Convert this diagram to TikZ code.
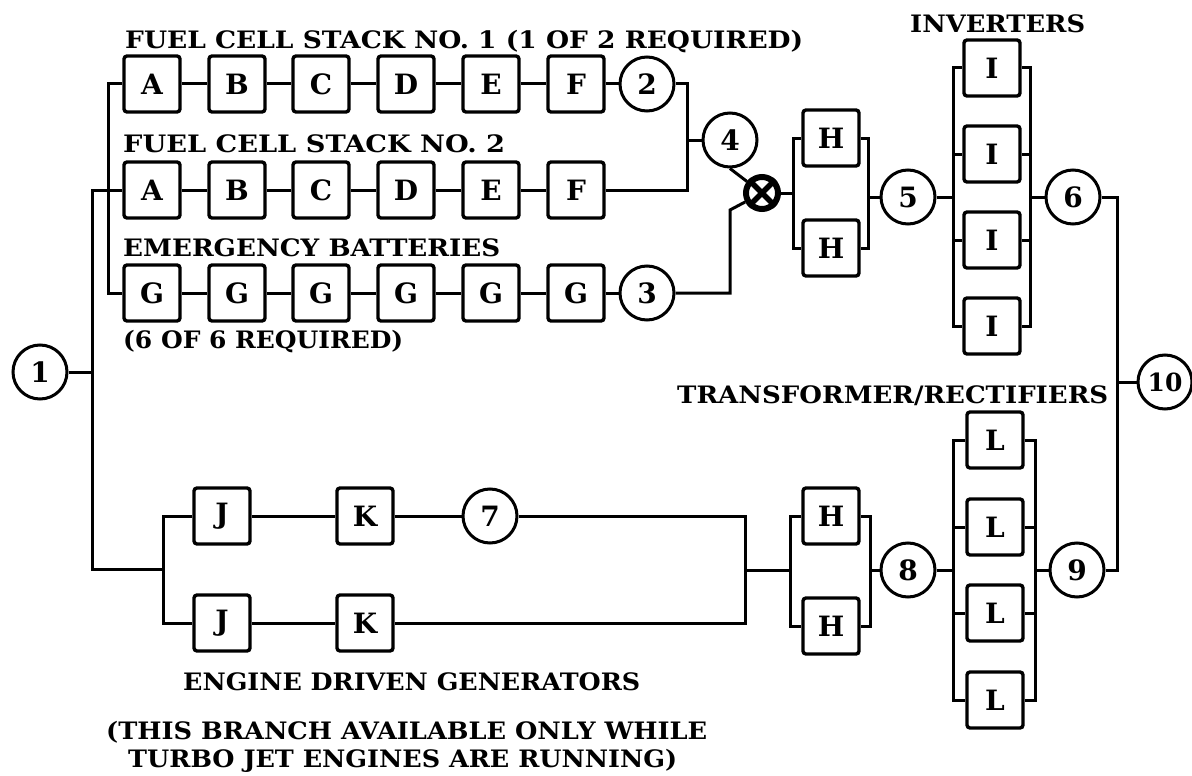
\documentclass[tikz,border=0pt]{standalone}
\usepackage{fontspec}
\setmainfont{DejaVu Serif}
\usepackage{graphicx}
\newcommand\fitw[2]{\resizebox{#1}{\height}{#2}}
\begin{document}
\begin{tikzpicture}[x=1pt,y=-1pt,
  blk/.style={draw,line width=3.4pt,rounded corners=3pt,minimum width=56pt,minimum height=56pt,inner sep=0pt,font=\fontsize{28}{30}\selectfont\bfseries},
  rnd/.style={draw,circle,line width=3pt,minimum size=54pt,inner sep=0pt,font=\fontsize{28}{30}\selectfont\bfseries},
  wire/.style={line width=3pt},
  lbl/.style={anchor=base west,inner sep=0pt,font=\fontsize{24}{28}\selectfont\bfseries}]
\useasboundingbox (0,0) rectangle (1192,776);

% labels
\node[lbl] (t1) at (125,49) {\fitw{678pt}{FUEL CELL STACK NO.~1 (1 OF 2 REQUIRED)}};
\node[lbl] (t2) at (123,152) {\fitw{382pt}{FUEL CELL STACK NO.~2}};
\node[lbl] (t3) at (123,256) {\fitw{377pt}{EMERGENCY BATTERIES}};
\node[lbl] (t4) at (123,348) {\fitw{280pt}{(6 OF 6 REQUIRED)}};
\node[lbl] (t5) at (910,33) {\fitw{175pt}{INVERTERS}};
\node[lbl] (t6) at (677,403) {\fitw{431pt}{TRANSFORMER/RECTIFIERS}};
\node[lbl] (t7) at (183,690) {\fitw{457pt}{ENGINE DRIVEN GENERATORS}};
\node[lbl] (t8) at (106,739) {\fitw{601pt}{(THIS BRANCH AVAILABLE ONLY WHILE}};
\node[lbl] (t9) at (128,767) {\fitw{549pt}{TURBO JET ENGINES ARE RUNNING)}};

% rows of boxes
\foreach \n/\x/\t in {1/152/A,2/237/B,3/321/C,4/406/D,5/491/E,6/576/F}{
  \node[blk] (r1\n) at (\x,84) {\t};
  \node[blk] (r2\n) at (\x,190) {\t};
  \node[blk] (r3\n) at (\x,293) {G};
}
\foreach \i/\j in {1/2,2/3,3/4,4/5,5/6}{
  \draw[wire] (r1\i) -- (r1\j);
  \draw[wire] (r2\i) -- (r2\j);
  \draw[wire] (r3\i) -- (r3\j);
}
\node[rnd] (c1) at (40,372) {1};
\node[rnd] (c2) at (647,84) {2};
\node[rnd] (c3) at (647,293) {3};
\node[rnd] (c4) at (730,140) {4};
\node[rnd] (c5) at (908,197) {5};
\node[rnd] (c6) at (1073,197) {6};
\node[rnd] (c7) at (490,516) {7};
\node[rnd] (c8) at (908,570) {8};
\node[rnd] (c9) at (1077,570) {9};
\node[rnd,font=\fontsize{25}{28}\selectfont\bfseries] (c10) at (1165,382) {10};

\node[circle,draw,line width=6pt,minimum size=32pt,inner sep=0pt] (X) at (762,193) {};
\draw[line width=5.5pt] (X.north west) -- (X.south east);
\draw[line width=5.5pt] (X.north east) -- (X.south west);

\node[blk] (h1) at (831,138) {H};
\node[blk] (h2) at (831,248) {H};
\node[blk] (h3) at (831,516) {H};
\node[blk] (h4) at (831,626) {H};
\foreach \n/\y in {1/68,2/154,3/240,4/326}{
  \node[blk] (i\n) at (992,\y) {I};
}
\foreach \n/\y in {1/440,2/527,3/613,4/700}{
  \node[blk] (l\n) at (995,\y) {L};
}
\node[blk] (j1) at (222,516) {J};
\node[blk] (j2) at (222,623) {J};
\node[blk] (k1) at (365,516) {K};
\node[blk] (k2) at (365,623) {K};

% left side
\coordinate (b1) at (92,372);
\coordinate (jb) at (163,569);
\draw[wire] (c1) -- (b1);
\draw[wire] (r21.west) -| (b1) |- (jb);
\draw[wire] (r11.west) -- ++(-13.5,0) |- (r31.west);
\draw[wire] (j1.west) -| (jb) |- (j2.west);
\draw[wire] (j1) -- (k1);
\draw[wire] (k1) -- (c7);
\draw[wire] (j2) -- (k2);

% fuel cells to X
\draw[wire] (r16) -- (c2);
\draw[wire] (r36) -- (c3);
\coordinate (m4) at (687,140);
\draw[wire] (c2) -| (m4) |- (r26.east);
\draw[wire] (m4) -- (c4);
\coordinate (m3) at (730,210);
\draw[wire] (c3) -| (m3) -- (X);
\draw[wire] (c4.south) -- (X);

% H pair (top)
\coordinate (hb1) at (793,193);
\draw[wire] (X) -- (hb1);
\draw[wire] (h1.west) -| (hb1) |- (h2.west);
\coordinate (hb2) at (868,197);
\draw[wire] (h1.east) -| (hb2) |- (h2.east);
\draw[wire] (hb2) -- (c5);

% inverters
\coordinate (ib1) at (953,197);
\coordinate (ib2) at (1030,197);
\draw[wire] (c5) -- (ib1);
\draw[wire] (i1.west) -| (ib1) |- (i4.west);
\draw[wire] (i2.west) -- (i2.west -| ib1);
\draw[wire] (i3.west) -- (i3.west -| ib1);
\draw[wire] (i1.east) -| (ib2) |- (i4.east);
\draw[wire] (i2.east) -- (i2.east -| ib2);
\draw[wire] (i3.east) -- (i3.east -| ib2);
\draw[wire] (ib2) -- (c6);

% right joins
\coordinate (rb) at (1117,382);
\draw[wire] (c6) -| (rb) |- (c9);
\draw[wire] (rb) -- (c10);

% generators to H pair (bottom)
\coordinate (gb) at (745,570);
\coordinate (hb3) at (790,570);
\coordinate (hb4) at (870,570);
\draw[wire] (c7) -| (gb) |- (k2);
\draw[wire] (gb) -- (hb3);
\draw[wire] (h3.west) -| (hb3) |- (h4.west);
\draw[wire] (h3.east) -| (hb4) |- (h4.east);
\draw[wire] (hb4) -- (c8);

% transformer/rectifiers
\coordinate (lb1) at (953,570);
\coordinate (lb2) at (1035,570);
\draw[wire] (c8) -- (lb1);
\draw[wire] (l1.west) -| (lb1) |- (l4.west);
\draw[wire] (l2.west) -- (l2.west -| lb1);
\draw[wire] (l3.west) -- (l3.west -| lb1);
\draw[wire] (l1.east) -| (lb2) |- (l4.east);
\draw[wire] (l2.east) -- (l2.east -| lb2);
\draw[wire] (l3.east) -- (l3.east -| lb2);
\draw[wire] (lb2) -- (c9);
\end{tikzpicture}
\end{document}
